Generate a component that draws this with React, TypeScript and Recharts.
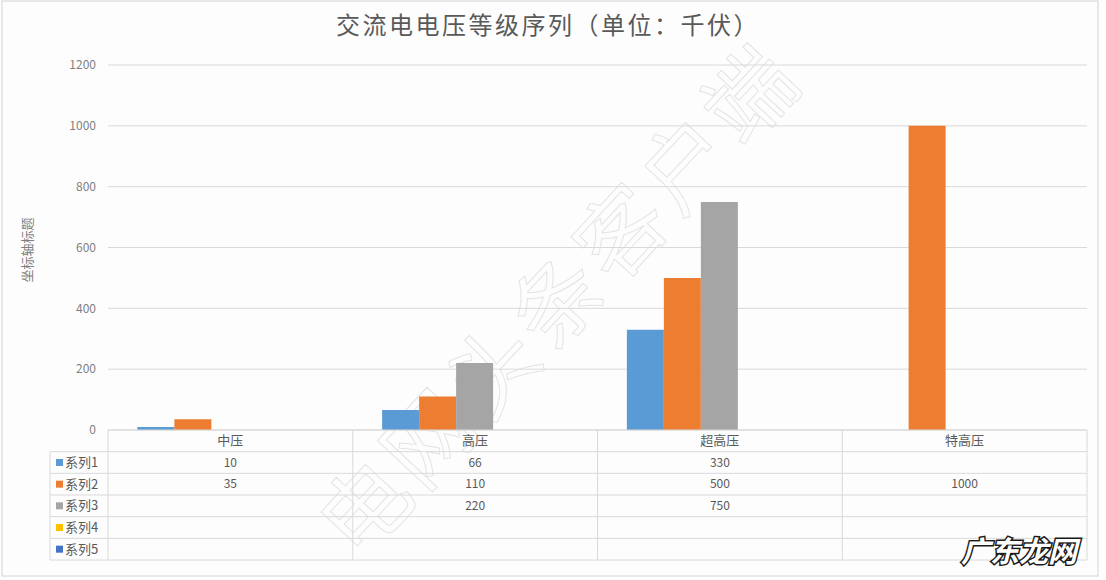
import { Bar, BarChart, CartesianGrid, XAxis, YAxis } from 'recharts';

// 数据
const categories = ['中压', '高压', '超高压', '特高压'];
const series1 = [10, 66, 330, null];
const series2 = [35, 110, 500, 1000];
const series3 = [null, 220, 750, null];
const series4 = [null, null, null, null];
const series5 = [null, null, null, null];
const seriesNames = ['系列1', '系列2', '系列3', '系列4', '系列5'];
const seriesColors = ['#5b9bd5', '#ed7d31', '#a5a5a5', '#ffc000', '#4472c4'];
const yTicks = [0, 200, 400, 600, 800, 1000, 1200];

const allSeries = [series1, series2, series3, series4, series5];
const data = categories.map((name, i) => ({
	name,
	s1: series1[i],
	s2: series2[i],
	s3: series3[i],
	s4: series4[i],
	s5: series5[i],
}));

const W = 1106;
const H = 580;
const PLOT_LEFT = 108;
const PLOT_RIGHT = 1087;
const PLOT_TOP = 65;
const AXIS_Y = 430;
const ROW_H = 21.67;
const TABLE_LEFT = 50;
const COL_W = (PLOT_RIGHT - PLOT_LEFT) / categories.length;
const FONT = '"Noto Sans CJK SC", "Noto Sans", sans-serif';

const DataTable = () => {
	const rows = allSeries.length;
	const bottom = AXIS_Y + ROW_H * (rows + 1);
	return (
		<g fontFamily={FONT}>
			{Array.from({ length: rows }, (_, k) => (
				<line
					key={'h' + k}
					x1={TABLE_LEFT}
					x2={PLOT_RIGHT}
					y1={AXIS_Y + ROW_H * (k + 1)}
					y2={AXIS_Y + ROW_H * (k + 1)}
					stroke="#d9d9d9"
				/>
			))}
			<line x1={TABLE_LEFT} x2={PLOT_RIGHT} y1={bottom} y2={bottom} stroke="#d9d9d9" />
			<line x1={TABLE_LEFT} x2={TABLE_LEFT} y1={AXIS_Y + ROW_H} y2={bottom} stroke="#d9d9d9" />
			{Array.from({ length: categories.length + 1 }, (_, j) => (
				<line
					key={'v' + j}
					x1={PLOT_LEFT + COL_W * j}
					x2={PLOT_LEFT + COL_W * j}
					y1={AXIS_Y}
					y2={bottom}
					stroke="#d9d9d9"
				/>
			))}
			{allSeries.map((s, k) => {
				const cy = AXIS_Y + ROW_H * (k + 1.5);
				return (
					<g key={'r' + k}>
						<rect x={TABLE_LEFT + 6} y={cy - 3.5} width={7} height={7} fill={seriesColors[k]} />
						<text x={TABLE_LEFT + 15} y={cy} dy="0.35em" fontSize={13} fill="#595959">
							{seriesNames[k]}
						</text>
						{s.map((v, j) =>
							v == null ? null : (
								<text
									key={j}
									x={PLOT_LEFT + COL_W * (j + 0.5)}
									y={cy}
									dy="0.35em"
									fontSize={12}
									fill="#595959"
									textAnchor="middle"
								>
									{v}
								</text>
							)
						)}
					</g>
				);
			})}
		</g>
	);
};

const App = () => {
	return (
		<div style={{ position: 'fixed', left: 0, top: 0, width: W, height: H, background: '#fdfdfd' }}>
			{/* 水印放在图表后面 */}
			<svg width={W} height={H} style={{ position: 'absolute', left: 0, top: 0 }}>
				<text
					x={560}
					y={300}
					dy="0.35em"
					textAnchor="middle"
					fontFamily={FONT}
					fontSize={88}
					letterSpacing={6}
					fill="none"
					stroke="#e4e4e4"
					strokeWidth={1}
					transform="rotate(-47 560 300)"
				>
					电网头条客户端
				</text>
			</svg>
			<div style={{ position: 'absolute', left: 0, top: 0 }}>
				<BarChart
					width={W}
					height={H}
					data={data}
					margin={{ top: PLOT_TOP, right: W - PLOT_RIGHT, left: PLOT_LEFT - 60, bottom: H - AXIS_Y - 20 }}
					barCategoryGap="12%"
					barGap={0}
				>
					<CartesianGrid vertical={false} stroke="#d9d9d9" />
					<XAxis
						dataKey="name"
						height={20}
						axisLine={{ stroke: '#d9d9d9' }}
						tickLine={false}
						tick={{ fill: '#595959', fontSize: 13, fontFamily: FONT }}
						tickMargin={0}
					/>
					<YAxis
						width={60}
						domain={[0, 1200]}
						ticks={yTicks}
						axisLine={false}
						tickLine={false}
						tick={{ fill: '#7f7f7f', fontSize: 12, fontFamily: FONT }}
						tickMargin={6}
					/>
					<Bar dataKey="s1" fill={seriesColors[0]} isAnimationActive={false} />
					<Bar dataKey="s2" fill={seriesColors[1]} isAnimationActive={false} />
					<Bar dataKey="s3" fill={seriesColors[2]} isAnimationActive={false} />
					<Bar dataKey="s4" fill={seriesColors[3]} isAnimationActive={false} />
					<Bar dataKey="s5" fill={seriesColors[4]} isAnimationActive={false} />
				</BarChart>
			</div>
			<svg
				width={W}
				height={H}
				style={{ position: 'absolute', left: 0, top: 0, pointerEvents: 'none' }}
			>
				<rect x={2} y={1} width={1096} height={575} fill="none" stroke="#d4d4d4" />
				<text
					x={548}
					y={26}
					dy="0.35em"
					textAnchor="middle"
					fontFamily={FONT}
					fontSize={24}
					fontWeight={400}
					letterSpacing={2.5}
					fill="#595959"
				>
					交流电电压等级序列（单位：千伏）
				</text>
				<text
					x={27}
					y={250}
					dy="0.35em"
					textAnchor="middle"
					fontFamily={FONT}
					fontSize={13}
					fill="#7f7f7f"
					transform="rotate(-90 27 250)"
				>
					坐标轴标题
				</text>
				<DataTable />
				<text
					x={1019}
					y={552}
					dy="0.35em"
					textAnchor="middle"
					fontFamily={FONT}
					fontSize={29}
					fontWeight={700}
					fontStyle="italic"
					fill="#ffffff"
					stroke="#1a1a1a"
					strokeWidth={3}
					paintOrder="stroke"
				>
					广东龙网
				</text>
			</svg>
		</div>
	);
};

export default App;
